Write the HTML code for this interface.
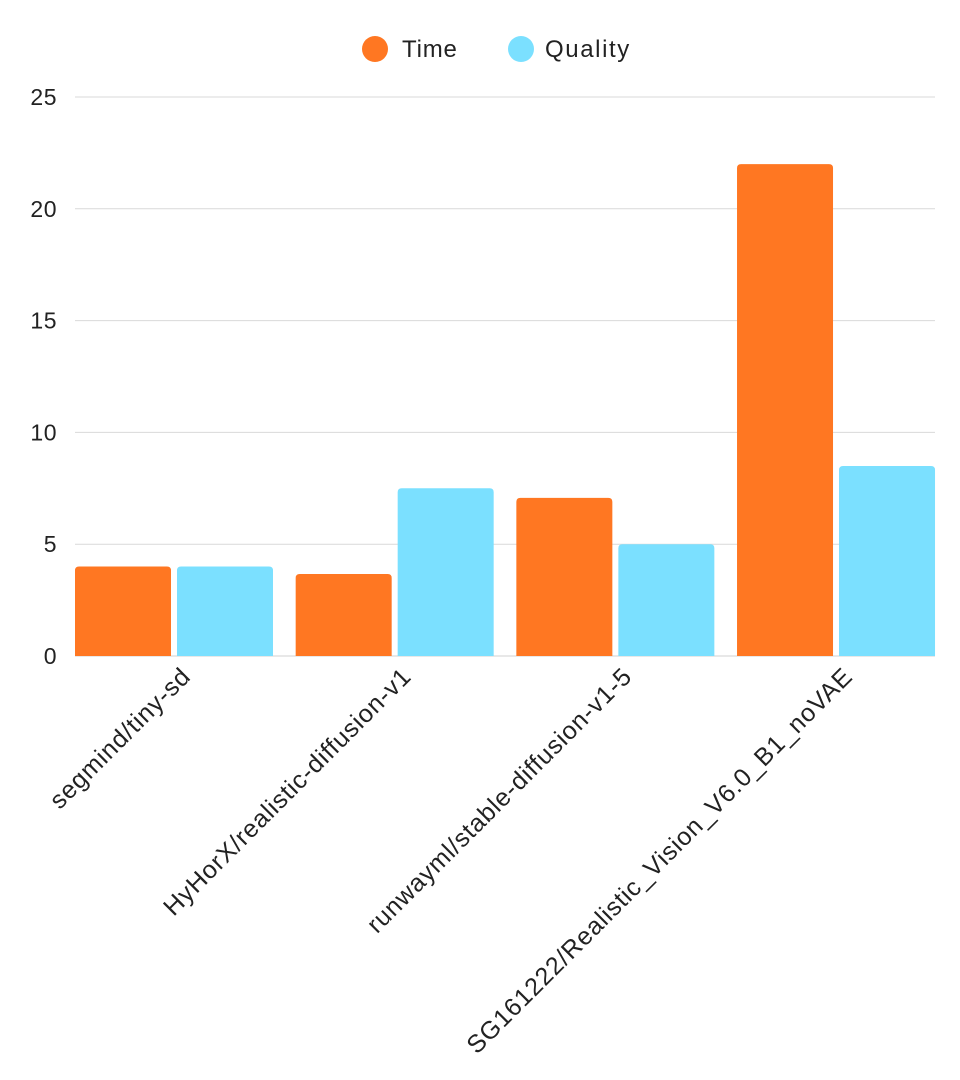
<!DOCTYPE html>
<html><head><meta charset="utf-8"><style>
html,body{margin:0;padding:0;background:#fff;}
svg{display:block;font-family:"Liberation Sans",sans-serif;}
</style></head><body>
<svg id="chart" width="960" height="1080" viewBox="0 0 960 1080">
<g id="legend">
<g><circle cx="375" cy="49" r="13" fill="#FF7722"/><text x="402" y="57" font-size="24" letter-spacing="0.8" fill="#222">Time</text></g>
<g><circle cx="521" cy="49" r="13" fill="#7BE0FF"/><text x="545" y="57" font-size="24" letter-spacing="1.6" fill="#222">Quality</text></g>
</g>
<g id="grid"></g>
<g id="yticks"></g>
<g id="bars"></g>
<g id="xlabels"></g>
</svg>
<script>
const categories = ["segmind/tiny-sd","HyHorX/realistic-diffusion-v1","runwayml/stable-diffusion-v1-5","SG161222/Realistic_Vision_V6.0_B1_noVAE"];
const timeValues = [4, 3.67, 7.07, 22];
const qualityValues = [4, 7.5, 5, 8.5];
const yTicks = [0, 5, 10, 15, 20, 25];

const NS = "http://www.w3.org/2000/svg";
const x0 = 75, x1 = 935, yBase = 656, yTop = 97, yMax = 25;
const y = v => yBase - v / yMax * (yBase - yTop);
const step = (x1 - x0 + 22.7) / categories.length;
const barW = 96, gap = 6;
function mk(tag, attrs, parent) { const e = document.createElementNS(NS, tag); for (const k in attrs) e.setAttribute(k, attrs[k]); parent.appendChild(e); return e; }
const grid = document.getElementById('grid'), yt = document.getElementById('yticks'), bars = document.getElementById('bars'), xl = document.getElementById('xlabels');
yTicks.forEach(t => {
  if (t > 0) { const l = mk('line', {x1: x0, x2: x1, y1: y(t), y2: y(t), stroke: '#d9d9d9', 'stroke-width': 1}, grid);
    
     }
  const tx = mk('text', {x: 57, y: y(t) + 8, 'font-size': 23, 'letter-spacing': 0.5, 'text-anchor': 'end', fill: '#222'}, yt);
  tx.textContent = t;
  
  
});
mk('line', {x1: x0, x2: x1, y1: yBase, y2: yBase, stroke: '#d0d0d0', 'stroke-width': 1}, grid);
function bar(x, v, color, name) {
  const top = y(v), h = yBase - top, r = Math.min(4, h);
  const p = mk('path', {d: `M${x},${yBase}V${top + r}Q${x},${top} ${x + r},${top}H${x + barW - r}Q${x + barW},${top} ${x + barW},${top + r}V${yBase}Z`, fill: color}, bars);
  
  
}
categories.forEach((c, i) => {
  const gx = x0 + i * step;
  bar(gx, timeValues[i], '#FF7722', 'bar-time-' + (i + 1));
  bar(gx + barW + gap, qualityValues[i], '#7BE0FF', 'bar-quality-' + (i + 1));
  const cx = gx + barW + gap / 2 + 18;
  const t = mk('text', {x: cx, y: 678, 'font-size': 25, 'letter-spacing': 0.8, 'text-anchor': 'end', fill: '#222', transform: `rotate(-45 ${cx} 678)`}, xl);
  t.textContent = c;
  
  
});
</script>
</body></html>
